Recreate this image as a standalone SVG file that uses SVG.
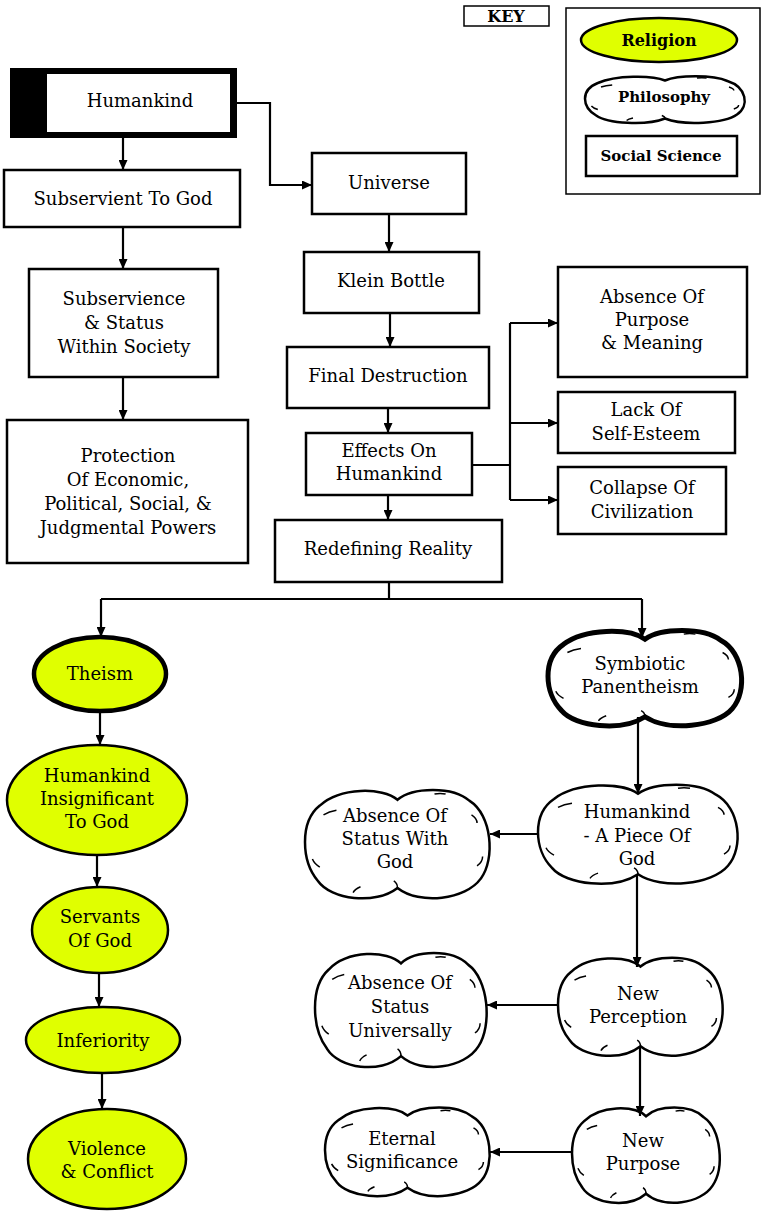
<svg xmlns="http://www.w3.org/2000/svg" width="761" height="1212" viewBox="0 0 761 1212">
<style>
text{font-family:"DejaVu Serif","Liberation Serif",serif;font-size:18px;text-anchor:middle;fill:#000}
.b{font-weight:bold;font-size:15px}
.box{fill:#fff;stroke:#000;stroke-width:2.5}
.rel{fill:#e0ff00;stroke:#000;stroke-width:2.5}
.cl{fill:#fff;stroke:#000;stroke-width:2.5}
.con path{fill:none;stroke:#000;stroke-width:2.2}
</style>
<defs>
<marker id="ah" markerUnits="userSpaceOnUse" markerWidth="11" markerHeight="9" refX="10" refY="4.5" orient="auto">
<path d="M0,0 L10,4.5 L0,9 z" fill="#000"/>
</marker>
<g id="cloud">
<path vector-effect="non-scaling-stroke" d="M50,11 C58,0 80,-1 89,12 C101,24 103,62 95,79 C87,97 62,102 50,87 C38,102 14,97 7,81 C-2,64 -3,30 8,16 C19,0 42,0 50,11 Z"/>
<path vector-effect="non-scaling-stroke" fill="none" stroke-width="1.5" d="M10,24 q3,-3 7,-4 M90,24 q3,3 3,7 M4,62 q1,4 4,7 M96,60 q0,5 -3,8 M26,91 q1,-3 4,-5 M50,87 q0,-4 -2,-6 M70,6 q3,-1 6,0"/>
</g>
</defs>

<g id="key">
<rect x="464" y="6" width="85" height="20" fill="#fff" stroke="#000" stroke-width="1.5"/>
<text class="b" x="506" y="22" style="font-size:16px">KEY</text>
<rect x="566" y="8" width="194" height="186" fill="#fff" stroke="#000" stroke-width="1.5"/>
<ellipse class="rel" cx="659" cy="40" rx="78" ry="22"/>
<text class="b" x="659" y="46" style="font-size:16px">Religion</text>
<use href="#cloud" class="cl" transform="translate(585,75) scale(1.6,0.5)"/>
<text class="b" x="664" y="102">Philosophy</text>
<rect x="586" y="136" width="151" height="40" class="box"/>
<text class="b" x="661" y="161">Social Science</text>
</g>

<g id="n-humankind">
<rect x="10" y="68" width="227" height="70" fill="#000"/>
<rect x="47" y="74" width="183" height="58" fill="#fff"/>
<text x="140" y="107">Humankind</text>
</g>
<g id="n-subservient">
<rect x="4" y="170" width="236" height="57" class="box"/>
<text x="123" y="205">Subservient To God</text>
</g>
<g id="n-subservience">
<rect x="29" y="269" width="189" height="108" class="box"/>
<text x="124" y="305">Subservience</text>
<text x="124" y="329">&amp; Status</text>
<text x="124" y="353">Within Society</text>
</g>
<g id="n-protection">
<rect x="7" y="420" width="241" height="143" class="box"/>
<text x="128" y="462">Protection</text>
<text x="128" y="486">Of Economic,</text>
<text x="128" y="510">Political, Social, &amp;</text>
<text x="128" y="534">Judgmental Powers</text>
</g>
<g id="n-universe">
<rect x="312" y="153" width="154" height="61" class="box"/>
<text x="389" y="189">Universe</text>
</g>
<g id="n-klein">
<rect x="304" y="252" width="175" height="61" class="box"/>
<text x="391" y="287">Klein Bottle</text>
</g>
<g id="n-final">
<rect x="287" y="347" width="202" height="61" class="box"/>
<text x="388" y="382">Final Destruction</text>
</g>
<g id="n-effects">
<rect x="306" y="433" width="166" height="62" class="box"/>
<text x="389" y="457">Effects On</text>
<text x="389" y="480">Humankind</text>
</g>
<g id="n-redefining">
<rect x="275" y="520" width="227" height="62" class="box"/>
<text x="388" y="555">Redefining Reality</text>
</g>
<g id="n-absence-purpose">
<rect x="558" y="267" width="189" height="110" class="box"/>
<text x="652" y="303">Absence Of</text>
<text x="652" y="326">Purpose</text>
<text x="652" y="349">&amp; Meaning</text>
</g>
<g id="n-lack">
<rect x="558" y="392" width="177" height="61" class="box"/>
<text x="646" y="416">Lack Of</text>
<text x="646" y="440">Self-Esteem</text>
</g>
<g id="n-collapse">
<rect x="558" y="467" width="168" height="67" class="box"/>
<text x="642" y="494">Collapse Of</text>
<text x="642" y="518">Civilization</text>
</g>

<g id="n-theism">
<ellipse cx="100" cy="674" rx="66" ry="37" fill="#e0ff00" stroke="#000" stroke-width="4.5"/>
<text x="100" y="680">Theism</text>
</g>
<g id="n-insignificant">
<ellipse class="rel" cx="97" cy="800" rx="90" ry="55"/>
<text x="97" y="782">Humankind</text>
<text x="97" y="805">Insignificant</text>
<text x="97" y="828">To God</text>
</g>
<g id="n-servants">
<ellipse class="rel" cx="100" cy="930" rx="68" ry="43"/>
<text x="100" y="923">Servants</text>
<text x="100" y="947">Of God</text>
</g>
<g id="n-inferiority">
<ellipse class="rel" cx="103" cy="1040" rx="77" ry="33"/>
<text x="103" y="1047">Inferiority</text>
</g>
<g id="n-violence">
<ellipse class="rel" cx="107" cy="1159" rx="79" ry="50"/>
<text x="107" y="1155">Violence</text>
<text x="107" y="1178">&amp; Conflict</text>
</g>

<g id="n-symbiotic">
<use href="#cloud" fill="#fff" stroke="#000" stroke-width="5" transform="translate(548,628) scale(1.94,1.02)"/>
<text x="640" y="670">Symbiotic</text>
<text x="640" y="693">Panentheism</text>
</g>
<g id="n-piece">
<use href="#cloud" class="cl" transform="translate(538,782) scale(2.0,1.06)"/>
<text x="637" y="818">Humankind</text>
<text x="637" y="842">- A Piece Of</text>
<text x="637" y="865">God</text>
</g>
<g id="n-status-god">
<use href="#cloud" class="cl" transform="translate(305,787) scale(1.85,1.16)"/>
<text x="395" y="822">Absence Of</text>
<text x="395" y="845">Status With</text>
<text x="395" y="868">God</text>
</g>
<g id="n-perception">
<use href="#cloud" class="cl" transform="translate(558,955) scale(1.65,1.05)"/>
<text x="638" y="1000">New</text>
<text x="638" y="1023">Perception</text>
</g>
<g id="n-status-univ">
<use href="#cloud" class="cl" transform="translate(315,950) scale(1.72,1.22)"/>
<text x="400" y="989">Absence Of</text>
<text x="400" y="1013">Status</text>
<text x="400" y="1037">Universally</text>
</g>
<g id="n-purpose">
<use href="#cloud" class="cl" transform="translate(572,1105) scale(1.48,1.02)"/>
<text x="643" y="1147">New</text>
<text x="643" y="1170">Purpose</text>
</g>
<g id="n-eternal">
<use href="#cloud" class="cl" transform="translate(325,1105) scale(1.65,0.95)"/>
<text x="402" y="1145">Eternal</text>
<text x="402" y="1168">Significance</text>
</g>

<g id="connectors" class="con">
<path d="M123,138 V170" marker-end="url(#ah)"/>
<path d="M237,103 H270 V185 H312" marker-end="url(#ah)"/>
<path d="M123,227 V269" marker-end="url(#ah)"/>
<path d="M123,377 V420" marker-end="url(#ah)"/>
<path d="M389,214 V252" marker-end="url(#ah)"/>
<path d="M390,313 V347" marker-end="url(#ah)"/>
<path d="M388,408 V433" marker-end="url(#ah)"/>
<path d="M388,495 V520" marker-end="url(#ah)"/>
<path d="M472,465 H510 M510,323 V500"/>
<path d="M510,323 H558" marker-end="url(#ah)"/>
<path d="M510,423 H558" marker-end="url(#ah)"/>
<path d="M510,500 H558" marker-end="url(#ah)"/>
<path d="M389,582 V599 M101,599 H642"/>
<path d="M101,599 V637" marker-end="url(#ah)"/>
<path d="M642,599 V638" marker-end="url(#ah)"/>
<path d="M100,711 V745" marker-end="url(#ah)"/>
<path d="M97,855 V887" marker-end="url(#ah)"/>
<path d="M99,973 V1007" marker-end="url(#ah)"/>
<path d="M102,1073 V1109" marker-end="url(#ah)"/>
<path d="M638,717 V794" marker-end="url(#ah)"/>
<path d="M538,834 H490" marker-end="url(#ah)"/>
<path d="M637,874 V967" marker-end="url(#ah)"/>
<path d="M558,1005 H487" marker-end="url(#ah)"/>
<path d="M640,1046 V1116" marker-end="url(#ah)"/>
<path d="M572,1152 H490" marker-end="url(#ah)"/>
</g>
</svg>
